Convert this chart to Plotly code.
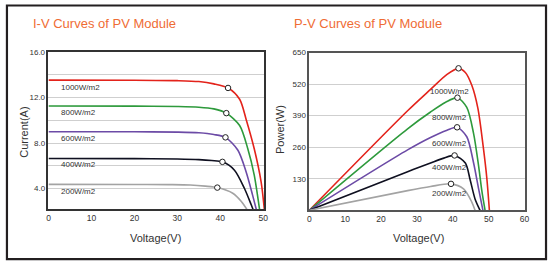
import plotly.graph_objects as go

W, H = 552, 262

# ---------------- data ----------------
irr_labels = ["1000W/m2", "800W/m2", "600W/m2", "400W/m2", "200W/m2"]
colors = ["#E3231B", "#2E9A3C", "#6C4BA6", "#0F1020", "#A3A3A3"]

# I-V curves: voltage (V) / current (A)
iv_v_1000 = [0, 20, 30, 35, 38.5, 41.8, 44.5, 46.0, 47.9, 49.5, 50.3]
iv_i_1000 = [13.53, 13.52, 13.48, 13.4, 13.2, 12.84, 11.85, 10.1, 7.5, 4.6, 2.0]
iv_v_800 = [0, 20, 30, 35, 38.5, 41.4, 44.5, 46.4, 47.9, 49.2]
iv_i_800 = [11.25, 11.24, 11.21, 11.15, 11.0, 10.63, 9.54, 7.5, 5.19, 2.0]
iv_v_600 = [0, 20, 30, 35, 38.5, 41.2, 44.1, 46.0, 47.5, 48.5]
iv_i_600 = [9.0, 8.99, 8.96, 8.9, 8.75, 8.5, 7.37, 5.48, 3.45, 2.0]
iv_v_400 = [0, 20, 30, 35, 38.0, 40.5, 43.3, 45.6, 47.2, 47.8]
iv_i_400 = [6.64, 6.63, 6.6, 6.55, 6.47, 6.35, 5.62, 4.03, 2.58, 2.0]
iv_v_200 = [0, 20, 28, 33, 36.5, 39.3, 42.9, 44.9, 46.5]
iv_i_200 = [4.37, 4.36, 4.35, 4.32, 4.22, 4.09, 3.59, 2.87, 2.0]

iv_mpp_v = [41.8, 41.4, 41.2, 40.5, 39.3]
iv_mpp_i = [12.84, 10.63, 8.50, 6.35, 4.09]

# P-V curves: voltage (V) / power (W)
pv_v_1000 = [0, 27.4, 33.8, 38.4, 41.6, 43.5, 45.3, 47.0, 48.5, 49.5, 50.2]
pv_p_1000 = [0, 410, 498, 560, 585, 568, 515, 420, 260, 130, 0]
pv_v_800 = [0, 27.4, 33.8, 38.0, 41.3, 43.9, 45.8, 47.2, 48.1, 49.0]
pv_p_800 = [0, 336, 405, 445, 464, 424, 316, 182, 80, 0]
pv_v_600 = [0, 27.4, 33.8, 38.4, 41.2, 43.9, 45.8, 47.2, 48.4]
pv_p_600 = [0, 249, 300, 330, 342, 303, 195, 88, 0]
pv_v_400 = [0, 27.4, 33.8, 37.5, 40.5, 43.5, 44.8, 46.2, 47.6]
pv_p_400 = [0, 159, 195, 215, 226, 195, 128, 47, 0]
pv_v_200 = [0, 27.4, 33.8, 39.5, 43.0, 45.3, 46.2]
pv_p_200 = [0, 81, 98, 109, 88, 34, 0]

pv_mpp_v = [41.6, 41.3, 41.2, 40.5, 39.5]
pv_mpp_p = [585, 464, 342, 226, 109]

# label positions
iv_lab_v = [2.4, 2.4, 2.4, 2.4, 2.4]
iv_lab_i = [12.87, 10.65, 8.37, 6.10, 3.77]
pv_lab_v = [39.0, 39.0, 39.0, 39.0, 39.0]
pv_lab_p = [491, 383, 276, 178, 70]

iv_x_ticks = [0, 10, 20, 30, 40, 50]
iv_y_ticks = [4, 8, 12, 16]
iv_y_ticktext = ["4.0", "8.0", "12.0", "16.0"]
pv_x_ticks = [0, 10, 20, 30, 40, 50, 60]
pv_y_ticks = [130, 260, 390, 520, 650]

iv_v = [iv_v_1000, iv_v_800, iv_v_600, iv_v_400, iv_v_200]
iv_i = [iv_i_1000, iv_i_800, iv_i_600, iv_i_400, iv_i_200]
pv_v = [pv_v_1000, pv_v_800, pv_v_600, pv_v_400, pv_v_200]
pv_p = [pv_p_1000, pv_p_800, pv_p_600, pv_p_400, pv_p_200]

# ---------------- figure ----------------
def px(x):
    return x / W

def py(y):
    return 1 - y / H

FONT = "Liberation Sans, Arial, sans-serif"
TXT = "#333333"

fig = go.Figure()

for k in range(5):
    fig.add_trace(go.Scatter(x=iv_v[k], y=iv_i[k], mode="lines",
                             line=dict(color=colors[k], width=1.6, shape="spline", smoothing=0.8),
                             xaxis="x", yaxis="y", showlegend=False, hoverinfo="skip"))
    fig.add_trace(go.Scatter(x=pv_v[k], y=pv_p[k], mode="lines",
                             line=dict(color=colors[k], width=1.6, shape="spline", smoothing=0.8),
                             xaxis="x2", yaxis="y2", showlegend=False, hoverinfo="skip"))

fig.add_trace(go.Scatter(x=iv_mpp_v, y=iv_mpp_i, mode="markers",
                         marker=dict(size=5.5, color="white", line=dict(color="#222", width=1)),
                         xaxis="x", yaxis="y", showlegend=False, hoverinfo="skip", cliponaxis=False))
fig.add_trace(go.Scatter(x=pv_mpp_v, y=pv_mpp_p, mode="markers",
                         marker=dict(size=5.5, color="white", line=dict(color="#222", width=1)),
                         xaxis="x2", yaxis="y2", showlegend=False, hoverinfo="skip", cliponaxis=False))

annotations = []
for k in range(5):
    annotations.append(dict(x=iv_lab_v[k], y=iv_lab_i[k], xref="x", yref="y", text=irr_labels[k],
                            showarrow=False, xanchor="left", yanchor="middle",
                            font=dict(family=FONT, size=8, color=TXT)))
    annotations.append(dict(x=pv_lab_v[k], y=pv_lab_p[k], xref="x2", yref="y2", text=irr_labels[k],
                            showarrow=False, xanchor="center", yanchor="middle",
                            font=dict(family=FONT, size=8, color=TXT)))

TITLE_C = "#EF6C34"
annotations += [
    dict(x=px(29), y=py(20), xref="paper", yref="paper", text="I-V Curves of PV Module",
         showarrow=False, xanchor="left", yanchor="middle",
         font=dict(family=FONT, size=13, color=TITLE_C)),
    dict(x=px(293), y=py(20), xref="paper", yref="paper", text="P-V Curves of PV Module",
         showarrow=False, xanchor="left", yanchor="middle",
         font=dict(family=FONT, size=13, color=TITLE_C)),
    dict(x=px(155), y=py(238), xref="paper", yref="paper", text="Voltage(V)",
         showarrow=False, xanchor="center", yanchor="middle",
         font=dict(family=FONT, size=11, color=TXT)),
    dict(x=px(421), y=py(238), xref="paper", yref="paper", text="Voltage(V)",
         showarrow=False, xanchor="center", yanchor="middle",
         font=dict(family=FONT, size=11, color=TXT)),
    dict(x=px(22), y=py(130), xref="paper", yref="paper", text="Current(A)", textangle=-90,
         showarrow=False, xanchor="center", yanchor="middle",
         font=dict(family=FONT, size=11, color=TXT)),
    dict(x=px(281), y=py(127), xref="paper", yref="paper", text="Power(W)", textangle=-90,
         showarrow=False, xanchor="center", yanchor="middle",
         font=dict(family=FONT, size=11, color=TXT)),
]

GRID = "#CFCFCF"
ytickfont = dict(family=FONT, size=8, color=TXT)
xtickfont = dict(family=FONT, size=8.5, color=TXT)

fig.update_layout(
    width=W, height=H,
    margin=dict(l=0, r=0, t=0, b=0),
    paper_bgcolor="white", plot_bgcolor="white",
    annotations=annotations,
    xaxis=dict(domain=[px(47), px(265)], range=[0, 50.2], anchor="y",
               tickvals=iv_x_ticks, showgrid=False, zeroline=False,
               showline=True, mirror=True, linecolor="#333", linewidth=1.6,
               ticks="", tickfont=xtickfont, fixedrange=True),
    yaxis=dict(domain=[py(208.3), py(48.7)], range=[2.2, 16], anchor="x",
               tickvals=iv_y_ticks, ticktext=iv_y_ticktext,
               showgrid=True, gridcolor=GRID, gridwidth=1,
               minor=dict(dtick=2, tick0=0, showgrid=True, gridcolor=GRID, gridwidth=1, ticks=""),
               zeroline=False, showline=True, mirror=True, linecolor="#333", linewidth=1.6,
               ticks="", tickfont=ytickfont, fixedrange=True),
    xaxis2=dict(domain=[px(310.7), px(529)], range=[0, 60.2], anchor="y2",
                tickvals=pv_x_ticks, showgrid=False, zeroline=False,
                showline=True, mirror=True, linecolor="#555", linewidth=1.6,
                ticks="", tickfont=xtickfont, fixedrange=True),
    yaxis2=dict(domain=[py(209.5), py(49.3)], range=[0, 650], anchor="x2",
                tickvals=pv_y_ticks, showgrid=True, gridcolor=GRID, gridwidth=1,
                zeroline=False, showline=True, mirror=True, linecolor="#555", linewidth=1.6,
                ticks="", tickfont=ytickfont, fixedrange=True),
    shapes=[dict(type="rect", xref="paper", yref="paper",
                 x0=px(5), x1=px(550), y0=py(259), y1=py(1.5),
                 line=dict(color="#231F20", width=2.2), fillcolor="rgba(0,0,0,0)")],
)

fig.write_html(
    "out.html",
    config={"displayModeBar": False},
    post_script="document.body.style.margin='0';document.body.style.padding='0';"
                "document.documentElement.style.overflow='hidden';document.body.style.overflow='hidden';",
)
